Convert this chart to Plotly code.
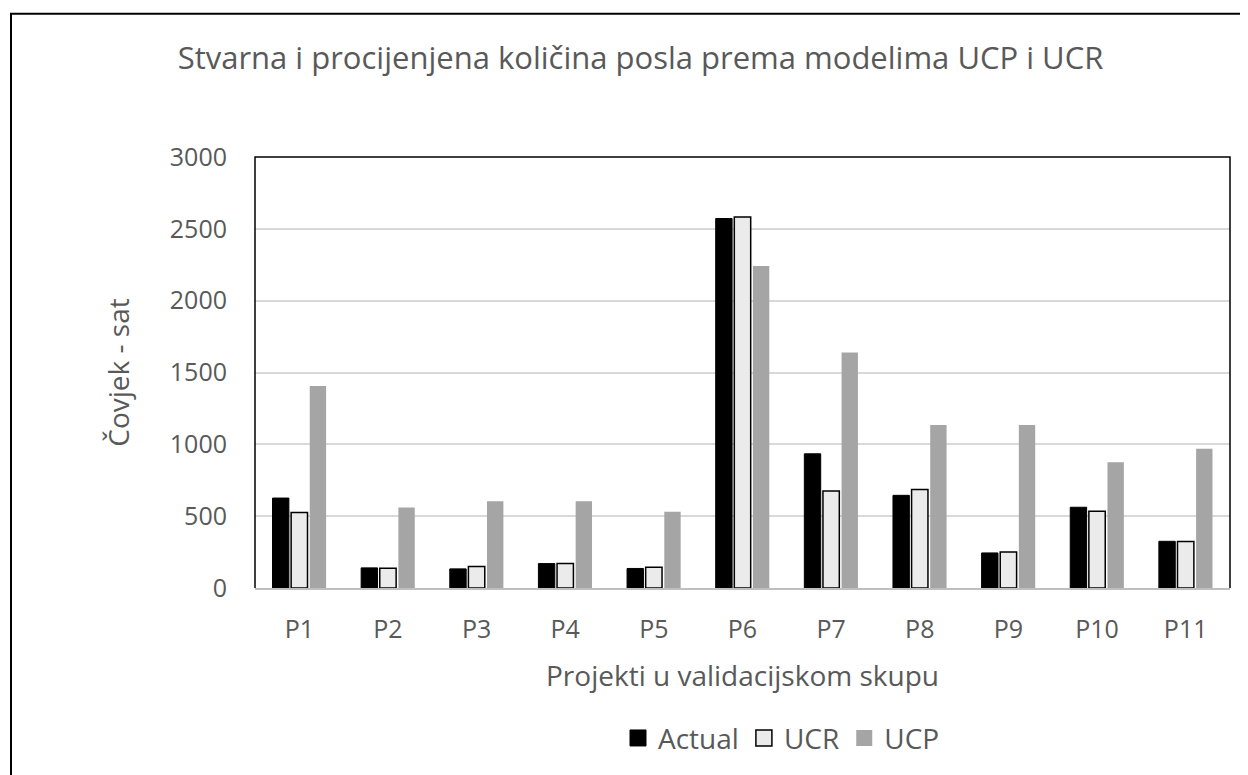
import plotly.graph_objects as go

categories = ["P1", "P2", "P3", "P4", "P5", "P6", "P7", "P8", "P9", "P10", "P11"]
actual = [626, 140, 133, 170, 136, 2572, 934, 645, 244, 562, 325]
ucr = [525, 138, 150, 171, 145, 2582, 675, 685, 251, 535, 323]
ucp = [1406, 560, 604, 604, 530, 2241, 1639, 1134, 1134, 876, 970]
series_names = ["Actual", "UCR", "UCP"]

# page body adds an 8px offset; figure coordinates = screen - 8
W, H = 1240, 767
L, R, T, B = 247, 18, 149, 182

FONT = "Open Sans"
GREY = "#595959"

fills = ["#000000", "#ebebeb", "#a5a5a5"]
outlines = [("#000000", 1), ("#000000", 1.5), ("#a5a5a5", 0)]

fig = go.Figure()
for name, vals, fc, (lc, lw) in zip(series_names, [actual, ucr, ucp], fills, outlines):
    fig.add_trace(go.Bar(name=name, x=categories, y=vals, legendgroup=name, showlegend=False,
                         marker=dict(color=fc, line=dict(color=lc, width=lw))))
# legend entries with larger square swatches
for name, fc, (lc, lw) in zip(series_names, fills, outlines):
    fig.add_trace(go.Scatter(name=name, x=[None], y=[None], mode="markers", legendgroup=name,
                             marker=dict(symbol="square", size=16, color=fc,
                                         line=dict(color=lc, width=max(lw, 0)))))

pw = W - L - R
ph = H - T - B

fig.update_layout(
    width=W, height=H,
    margin=dict(l=L, r=R, t=T, b=B),
    paper_bgcolor="white", plot_bgcolor="white",
    barmode="group", bargap=0.37, bargroupgap=0.12,
    font=dict(family=FONT, color=GREY, size=25),
    title=dict(text="Stvarna i procijenjena količina posla prema modelima UCP i UCR",
               x=632.5 / W, xref="container", xanchor="center",
               y=1 - 50 / H, yref="container", yanchor="middle",
               font=dict(size=31, color=GREY, family=FONT)),
    xaxis=dict(showgrid=False, showline=True, linecolor="#bfbfbf", linewidth=1.5,
               ticks="", tickfont=dict(size=25, color=GREY), ticklabelstandoff=18,
               title=dict(text="Projekti u validacijskom skupu", font=dict(size=28, color=GREY),
                          standoff=23)),
    yaxis=dict(range=[0, 3000], dtick=500, showgrid=True, gridcolor="#d9d9d9", gridwidth=1.5,
               zeroline=False, ticks="", tickfont=dict(size=25, color=GREY),
               ticklabelstandoff=27,
               title=dict(text="Čovjek - sat", font=dict(size=28, color=GREY), standoff=32)),
    legend=dict(orientation="h", x=0.54, xanchor="center",
                y=-(737 - (H - B)) / ph, yanchor="middle",
                font=dict(size=28, color=GREY), itemwidth=30, traceorder="normal",
                tracegroupgap=0),
    showlegend=True,
)

# plot area border (black) on left, top, right
fig.add_shape(type="path", xref="paper", yref="paper",
              path="M 0 0 L 0 1 L 1 1 L 1 0", line=dict(color="#000000", width=1.5),
              layer="above")
# outer chart border (only left/top visible)
fig.add_shape(type="rect", xref="paper", yref="paper",
              x0=(3 - L) / pw, y0=-(800 - (H - B)) / ph,
              x1=(1270 - L) / pw, y1=1 + (T - 4) / ph,
              line=dict(color="#000000", width=2), layer="above")

fig.write_html("out.html")
